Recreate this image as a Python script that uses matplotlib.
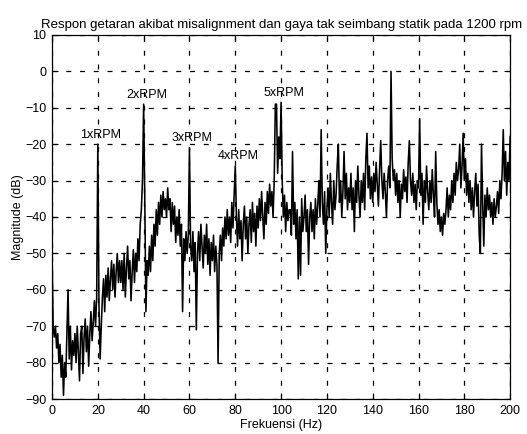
import numpy as np
import matplotlib
matplotlib.use("Agg")
import matplotlib.pyplot as plt

plt.rcParams['font.family'] = ['Liberation Sans', 'DejaVu Sans']

# Frequency axis: 0 .. 200 Hz in 0.5 Hz steps
freq_step = 0.5
freq_max = 200

# Spectrum magnitude (dB), one block per 10 Hz
mag_000 = [-50, -70, -73, -70, -76, -72, -80, -75, -84, -78, -89, -80, -84, -72, -60, -79, -70, -82, -74, -78]
mag_010 = [-72, -80, -70, -77, -85, -72, -70, -83, -73, -68, -77, -70, -81, -72, -66, -74, -69, -63, -70, -62]
mag_020 = [-20, -64, -79, -70, -62, -57, -66, -56, -62, -54, -63, -57, -52, -60, -53, -62, -55, -50, -58, -52]
mag_030 = [-58, -52, -60, -50, -62, -54, -48, -57, -52, -63, -55, -49, -58, -50, -55, -46, -52, -42, -38, -30]
mag_040 = [-9, -35, -66, -52, -56, -48, -55, -45, -52, -42, -48, -38, -45, -36, -42, -34, -40, -33, -38, -35]
mag_050 = [-40, -32, -38, -35, -44, -36, -42, -37, -47, -40, -45, -38, -48, -42, -66, -46, -52, -44, -50, -45]
mag_060 = [-21, -48, -52, -44, -55, -47, -71, -50, -44, -52, -42, -48, -54, -45, -50, -42, -53, -46, -56, -47]
mag_070 = [-52, -45, -55, -48, -53, -80, -50, -45, -52, -43, -48, -40, -46, -38, -45, -40, -47, -36, -43, -34]
mag_080 = [-26, -40, -48, -38, -46, -41, -52, -42, -37, -46, -40, -50, -42, -38, -47, -36, -44, -39, -48, -37]
mag_090 = [-43, -35, -41, -33, -40, -46, -36, -42, -33, -39, -31, -37, -33, -40, -30, -9, -9, -28, -18, -24]
mag_100 = [-8.5, -30, -40, -34, -44, -36, -41, -38, -38, -45, -22, -42, -36, -46, -38, -57, -40, -56, -35, -44]
mag_110 = [-40, -34, -44, -38, -53, -40, -36, -44, -38, -46, -35, -42, -37, -30, -40, -16, -36, -42, -33, -50]
mag_120 = [-38, -32, -40, -28, -36, -42, -30, -38, -34, -26, -20, -36, -30, -40, -33, -22, -35, -28, -38, -32]
mag_130 = [-36, -28, -38, -32, -44, -30, -36, -26, -34, -40, -30, -36, -28, -38, -24, -17, -32, -26, -35, -29]
mag_140 = [-36, -28, -33, -25, -31, -37, -27, -19, -30, -35, -28, -33, -40, -30, -26, -32, 0, -24, -30, -27]
mag_150 = [-34, -28, -36, -30, -40, -31, -35, -27, -33, -29, -36, -25, -19, -30, -34, -28, -36, -31, -38, -30]
mag_160 = [-32, -13, -34, -28, -42, -30, -36, -26, -33, -38, -30, -36, -27, -34, -40, -22, -36, -42, -38, -44]
mag_170 = [-40, -45, -39, -42, -38, -32, -40, -34, -38, -30, -36, -28, -34, -25, -30, -27, -20, -32, -26, -17]
mag_180 = [-30, -24, -34, -28, -36, -30, -38, -32, -40, -33, -28, -37, -31, -45, -50, -20, -36, -48, -34, -40]
mag_190 = [-32, -38, -34, -40, -36, -42, -35, -40, -37, -33, -39, -30, -35, -28, -16, -30, -22, -34, -25, -30]
mag_200 = [-18]

# Harmonic labels: text and frequency of the marked peak
harmonic_labels = ["1xRPM", "2xRPM", "3xRPM", "4xRPM", "5xRPM"]
harmonic_freqs = [20, 40, 60, 80, 100]

x_ticks = [0, 20, 40, 60, 80, 100, 120, 140, 160, 180, 200]
y_ticks = [10, 0, -10, -20, -30, -40, -50, -60, -70, -80, -90]

magnitude = np.array(mag_000 + mag_010 + mag_020 + mag_030 + mag_040 + mag_050 +
                     mag_060 + mag_070 + mag_080 + mag_090 + mag_100 + mag_110 +
                     mag_120 + mag_130 + mag_140 + mag_150 + mag_160 + mag_170 +
                     mag_180 + mag_190 + mag_200, dtype=float)
freq = np.arange(len(magnitude)) * freq_step

fig = plt.figure(figsize=(5.27, 4.34), dpi=100)
ax = fig.add_axes([0.0987, 0.0806, 0.8693, 0.8388])

ax.plot(freq, magnitude, color='black', linewidth=1.15)

ax.set_xlim(0, freq_max)
ax.set_ylim(-90, 10)
ax.set_xticks(x_ticks)
ax.set_yticks(y_ticks)
ax.tick_params(direction='in', top=True, right=True, labelsize=9, length=4, pad=4)
ax.grid(True, color='black', linestyle=(0, (4, 7)), linewidth=0.9)
for s in ax.spines.values():
    s.set_linewidth(0.9)

# Label each harmonic just above its peak
for lbl, f in zip(harmonic_labels, harmonic_freqs):
    idx = int(round(f / freq_step))
    peak = magnitude[max(idx - 6, 0):idx + 2].max()
    ax.text(f + 1.3, peak + 1.0, lbl, ha='center', va='bottom', fontsize=9)

ax.set_xlabel("Frekuensi (Hz)", fontsize=9, labelpad=2)
ax.set_ylabel("Magnitude (dB)", fontsize=9, labelpad=1)
ax.set_title("Respon getaran akibat misalignment dan gaya tak seimbang statik pada 1200 rpm",
             fontsize=9.5, pad=5, loc='center')

fig.savefig("out.png", dpi=100)
